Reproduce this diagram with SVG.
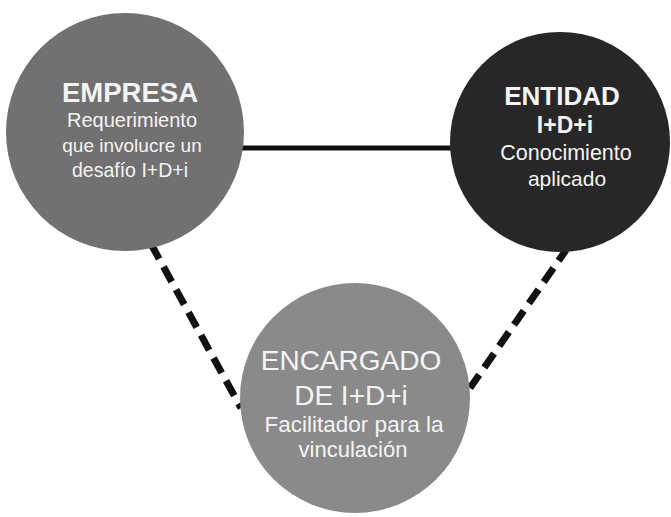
<svg xmlns="http://www.w3.org/2000/svg" width="671" height="517" viewBox="0 0 671 517">
<style>
.t{font-family:"Liberation Sans",Arial,sans-serif;fill:#f4f4f4;text-anchor:middle}
.b{font-weight:bold}
.solid{stroke:#111;stroke-width:5;fill:none}
.dash{stroke:#111;stroke-width:7;fill:none;stroke-dasharray:17 9}
</style>
<rect width="671" height="517" fill="#fff"/>
<g id="connectors">
<line class="solid" x1="230" y1="148" x2="460" y2="148"/>
<line class="dash" x1="151" y1="244" x2="241" y2="408"/>
<line class="dash" x1="566" y1="250" x2="470" y2="388" stroke-dashoffset="4"/>
</g>
<g id="empresa">
<circle cx="125" cy="132" r="119" fill="#717171"/>
<text class="t b" x="130" y="102" font-size="27.5">EMPRESA</text>
<text class="t" x="132" y="127" font-size="20">Requerimiento</text>
<text class="t" x="132" y="152" font-size="19">que involucre un</text>
<text class="t" x="130" y="177" font-size="19.5">desafío I+D+i</text>
</g>
<g id="entidad">
<circle cx="560" cy="142" r="110" fill="#272727"/>
<text class="t b" x="562" y="105" font-size="26">ENTIDAD</text>
<text class="t b" x="565" y="133" font-size="23">I+D+i</text>
<text class="t" x="566" y="160" font-size="21.5">Conocimiento</text>
<text class="t" x="567" y="186" font-size="21">aplicado</text>
</g>
<g id="encargado">
<circle cx="355" cy="398" r="115" fill="#8a8a8a"/>
<text class="t" x="351" y="370" font-size="28">ENCARGADO</text>
<text class="t" x="351" y="405" font-size="28">DE I+D+i</text>
<text class="t" x="354" y="432" font-size="22.5">Facilitador para la</text>
<text class="t" x="353" y="457" font-size="22">vinculación</text>
</g>
</svg>
